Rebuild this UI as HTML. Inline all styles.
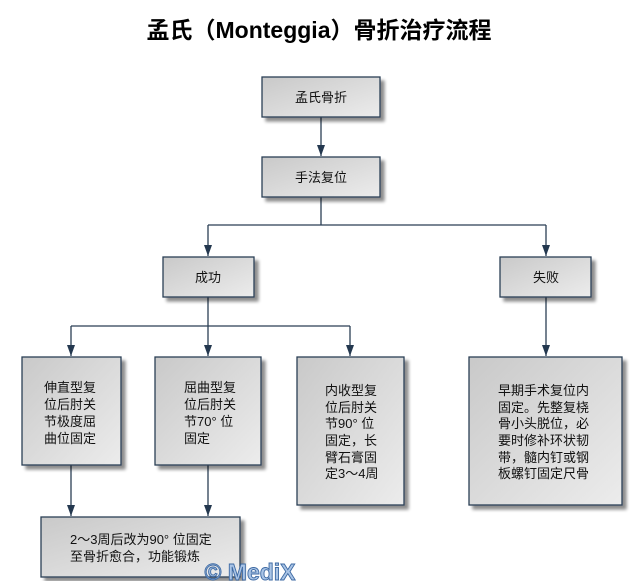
<!DOCTYPE html>
<html><head><meta charset="utf-8"><style>
html,body{margin:0;padding:0;background:#fff;}
svg{display:block;}
.t{font-family:"Liberation Sans","Noto Sans CJK SC",sans-serif;font-size:13px;fill:#111;}
</style></head><body>
<svg width="642" height="581" viewBox="0 0 642 581" xmlns="http://www.w3.org/2000/svg">
<defs>
<linearGradient id="g" x1="0" y1="0" x2="1" y2="1">
<stop offset="0" stop-color="#c9c9c9"/><stop offset="1" stop-color="#ececec"/>
</linearGradient>
<filter id="sh" x="-10%" y="-10%" width="130%" height="130%">
<feGaussianBlur in="SourceAlpha" stdDeviation="1.5"/><feOffset dx="4" dy="4"/>
<feComponentTransfer><feFuncA type="linear" slope="0.45"/></feComponentTransfer>
<feMerge><feMergeNode/><feMergeNode in="SourceGraphic"/></feMerge>
</filter>
<marker id="a" markerWidth="12" markerHeight="8" refX="11" refY="4" orient="auto" markerUnits="userSpaceOnUse">
<path d="M0,0 L11,4 L0,8 Z" fill="#24384f"/>
</marker>
</defs>
<text x="319" y="38" text-anchor="middle" font-family="Liberation Sans,Noto Sans CJK SC,sans-serif" font-size="23" font-weight="bold" fill="#000">孟氏（Monteggia）骨折治疗流程</text>
<g stroke="#2b3f55" stroke-width="1.3" fill="none">
<path d="M321 117 V156" marker-end="url(#a)"/>
<path d="M321 197 V225 M208 225 H546"/>
<path d="M208 225 V256" marker-end="url(#a)"/>
<path d="M546 225 V256" marker-end="url(#a)"/>
<path d="M208 297 V326 M71 326 H350"/>
<path d="M71 326 V356" marker-end="url(#a)"/>
<path d="M208 326 V356" marker-end="url(#a)"/>
<path d="M350 326 V356" marker-end="url(#a)"/>
<path d="M546 297 V356" marker-end="url(#a)"/>
<path d="M71 465 V516" marker-end="url(#a)"/>
<path d="M208 465 V516" marker-end="url(#a)"/>
</g>
<g fill="url(#g)" stroke="#2b3f55" stroke-width="1.3" filter="url(#sh)">
<rect x="262" y="77" width="118" height="40"/>
<rect x="262" y="157" width="118" height="40"/>
<rect x="163" y="257" width="91" height="40"/>
<rect x="500" y="257" width="91" height="40"/>
<rect x="22" y="357" width="99" height="108"/>
<rect x="155" y="357" width="106" height="108"/>
<rect x="297" y="357" width="107" height="148"/>
<rect x="469" y="357" width="153" height="148"/>
<rect x="41" y="517" width="199" height="60"/>
</g>
<g class="t">
<text x="321" y="102" text-anchor="middle">孟氏骨折</text>
<text x="321" y="182" text-anchor="middle">手法复位</text>
<text x="208" y="282" text-anchor="middle">成功</text>
<text x="546" y="282" text-anchor="middle">失败</text>
<text x="44" y="392">伸直型复</text><text x="44" y="409">位后肘关</text><text x="44" y="426">节极度屈</text><text x="44" y="443">曲位固定</text>
<text x="184" y="392">屈曲型复</text><text x="184" y="409">位后肘关</text><text x="184" y="426">节70° 位</text><text x="184" y="443">固定</text>
<text x="325" y="395">内收型复</text><text x="325" y="412">位后肘关</text><text x="325" y="428">节90° 位</text><text x="325" y="445">固定，长</text><text x="325" y="462">臂石膏固</text><text x="325" y="478">定3～4周</text>
<text x="498" y="395">早期手术复位内</text><text x="498" y="412">固定。先整复桡</text><text x="498" y="428">骨小头脱位，必</text><text x="498" y="445">要时修补环状韧</text><text x="498" y="462">带，髓内钉或钢</text><text x="498" y="478">板螺钉固定尺骨</text>
<text x="70" y="544">2～3周后改为90° 位固定</text>
<text x="70" y="561">至骨折愈合，功能锻炼</text>
</g>
<text x="250" y="580" text-anchor="middle" font-family="Liberation Sans,sans-serif" font-size="23" font-weight="bold" fill="#a9c4e6" stroke="#3e6aa3" stroke-width="0.9">© MediX</text>
</svg>
</body></html>
